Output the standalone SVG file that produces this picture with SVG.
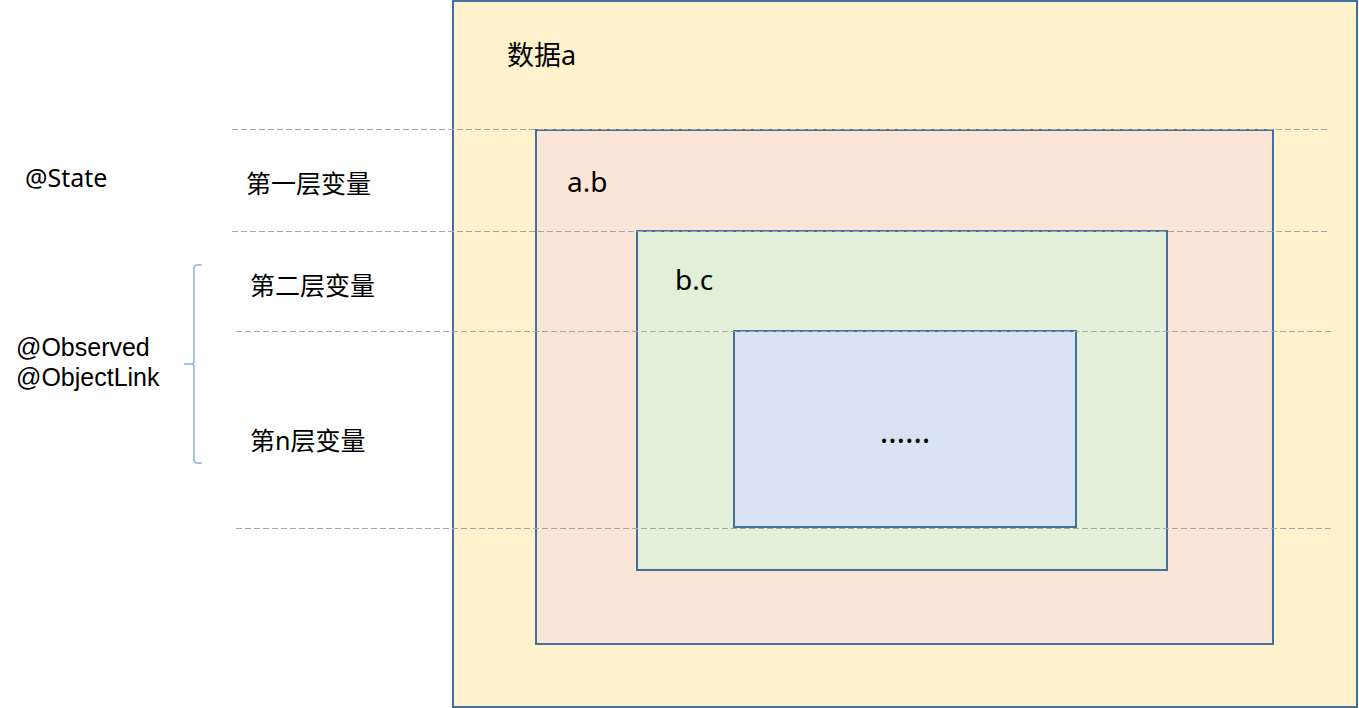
<svg xmlns="http://www.w3.org/2000/svg" width="1359" height="708" viewBox="0 0 1359 708">
<style>
.box{stroke:#41719C;stroke-width:2}
.t{font-family:"Noto Sans","Noto Sans CJK SC",sans-serif;fill:#000}
.l{font-family:"Liberation Sans",Arial,sans-serif;fill:#000}
.dash{stroke:#A6A6A6;stroke-width:1;stroke-dasharray:6 3;fill:none}
</style>
<rect width="1359" height="708" fill="#fff"/>
<g id="box-a"><rect class="box" x="453" y="1" width="904" height="706" fill="#FFF2CC"/><text class="t" x="507" y="65" font-size="27">数据a</text></g>
<g id="box-b"><rect class="box" x="536" y="130" width="737" height="514" fill="#FBE5D6"/><text class="t" x="567" y="192" font-size="28">a.b</text></g>
<g id="box-c"><rect class="box" x="637" y="231" width="530" height="339" fill="#E2F0D9"/><text class="t" x="675" y="290" font-size="28">b.c</text></g>
<g id="box-d"><rect class="box" x="734" y="331" width="342" height="196" fill="#DAE3F3"/><text class="t" x="905" y="443" font-size="32" text-anchor="middle">……</text></g>
<g id="connectors">
<line class="dash" x1="232" y1="129.5" x2="1328" y2="129.5"/>
<line class="dash" x1="232" y1="231.5" x2="1328" y2="231.5"/>
<line class="dash" x1="236" y1="331.5" x2="1333" y2="331.5"/>
<line class="dash" x1="236" y1="528.5" x2="1333" y2="528.5"/>
<path d="M202 265 H197 Q194 265 194 268 V361 Q194 364 191 364 H184 M191 364 Q194 364 194 367 V460 Q194 463 197 463 H202" fill="none" stroke="#8FB4DE" stroke-width="1.5"/>
</g>
<g id="labels">
<text class="t" x="25" y="187" font-size="25">@State</text>
<text class="t" x="246" y="193" font-size="25">第一层变量</text>
<text class="t" x="250" y="295" font-size="25">第二层变量</text>
<text class="l" x="16" y="356" font-size="25">@Observed</text>
<text class="l" x="16" y="386" font-size="25">@ObjectLink</text>
<text class="t" x="250" y="450" font-size="25">第n层变量</text>
</g>
</svg>
